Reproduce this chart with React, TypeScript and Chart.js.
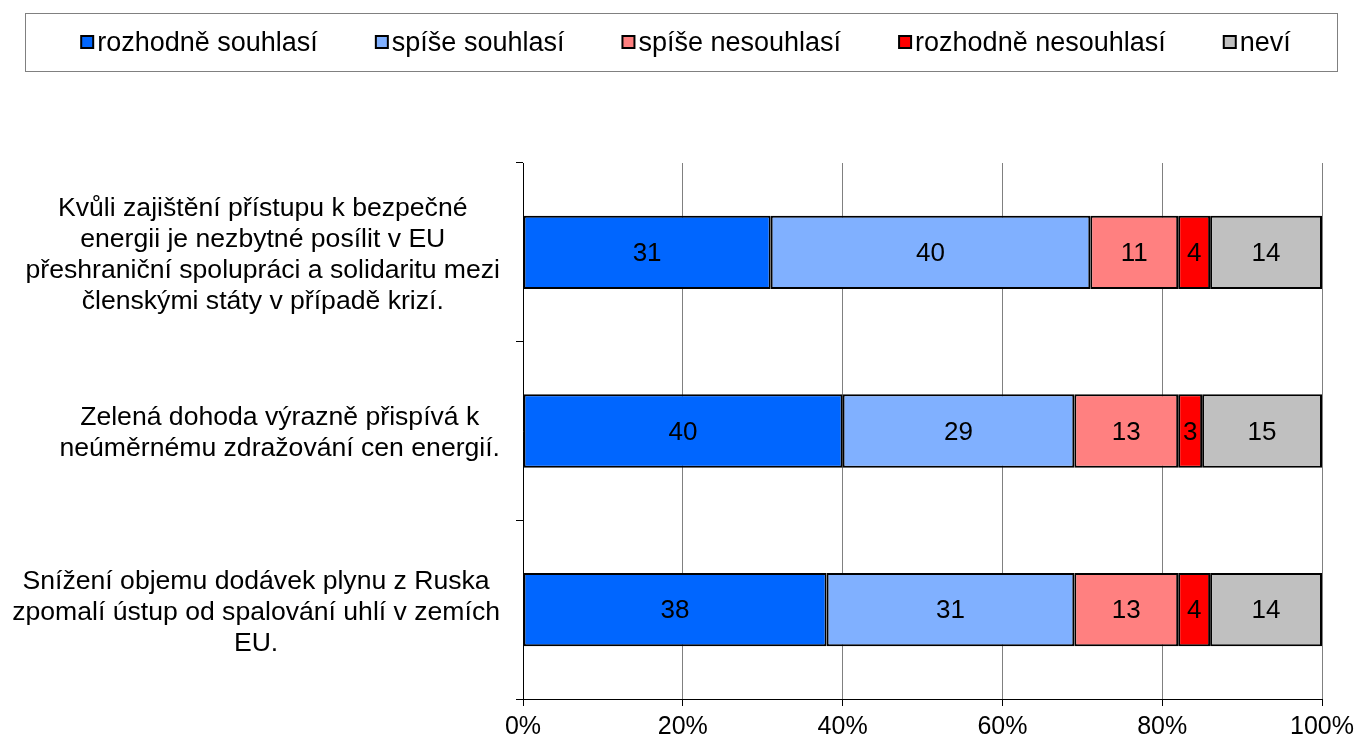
import React, { useEffect, useRef } from "react";
import { Chart, registerables } from "chart.js";
Chart.register(...registerables);

const categories: string[][] = [
  [
    "Kvůli zajištění přístupu k bezpečné",
    "energii je nezbytné posílit v EU",
    "přeshraniční spolupráci a solidaritu mezi",
    "členskými státy v případě krizí.",
  ],
  ["Zelená dohoda výrazně přispívá k", "neúměrnému zdražování cen energií."],
  [
    "Snížení objemu dodávek plynu z Ruska",
    "zpomalí ústup od spalování uhlí v zemích",
    "EU.",
  ],
];

const seriesNames = [
  "rozhodně souhlasí",
  "spíše souhlasí",
  "spíše nesouhlasí",
  "rozhodně nesouhlasí",
  "neví",
];
const rozhodneSouhlasi = [31, 40, 38];
const spiseSouhlasi = [40, 29, 31];
const spiseNesouhlasi = [11, 13, 13];
const rozhodneNesouhlasi = [4, 3, 4];
const nevi = [14, 15, 14];
const seriesColors = ["#0066FF", "#80B0FF", "#FF8080", "#FF0000", "#C0C0C0"];

const FONT = '"Liberation Sans", Arial, sans-serif';

const customPlugin = {
  id: "customDraw",
  afterDraw(chart: any) {
    const ctx = chart.ctx as CanvasRenderingContext2D;
    const area = chart.chartArea;
    ctx.save();
    // data labels
    ctx.font = `26px ${FONT}`;
    ctx.fillStyle = "#000";
    ctx.textAlign = "center";
    ctx.textBaseline = "middle";
    chart.data.datasets.forEach((ds: any, d: number) => {
      const meta = chart.getDatasetMeta(d);
      meta.data.forEach((el: any, i: number) => {
        const p = el.getProps(["x", "base", "y"], true);
        ctx.fillText(String(ds.data[i]), (p.x + p.base) / 2, p.y + 1.5);
      });
    });
    // category labels
    const yScale = chart.scales.y;
    ctx.font = `26.6px ${FONT}`;
    const lineH = 31;
    const right = area.left - 23;
    (chart.data.labels as string[][]).forEach((lines, i) => {
      const yc = yScale.getPixelForValue(i) + 2.5;
      const maxW = Math.max(...lines.map((l) => ctx.measureText(l).width));
      const cx = right - maxW / 2;
      const y0 = yc - ((lines.length - 1) * lineH) / 2;
      lines.forEach((l, k) => ctx.fillText(l, cx, y0 + k * lineH));
    });
    // legend
    const fl = { left: 25, top: 13, right: 1337, bottom: 71 };
    ctx.strokeStyle = "#808080";
    ctx.lineWidth = 1;
    ctx.strokeRect(fl.left + 0.5, fl.top + 0.5, fl.right - fl.left, fl.bottom - fl.top);
    ctx.font = `27px ${FONT}`;
    const box = 12;
    const gapBox = 4;
    const gap = 58;
    const widths = chart.data.datasets.map(
      (ds: any) => box + gapBox + ctx.measureText(ds.label).width
    );
    const total = widths.reduce((a: number, b: number) => a + b, 0) + gap * (widths.length - 1);
    let x = 686 - total / 2;
    const ly = (fl.top + fl.bottom) / 2;
    ctx.textAlign = "left";
    chart.data.datasets.forEach((ds: any, d: number) => {
      ctx.fillStyle = ds.backgroundColor;
      ctx.fillRect(x, ly - box / 2, box, box);
      ctx.strokeStyle = "#000";
      ctx.lineWidth = 2;
      ctx.strokeRect(x, ly - box / 2, box, box);
      ctx.fillStyle = "#000";
      ctx.fillText(ds.label, x + box + gapBox, ly + 1.5);
      x += widths[d] + gap;
    });
    ctx.restore();
  },
};

export default function App() {
  const ref = useRef<HTMLCanvasElement | null>(null);
  useEffect(() => {
    if (!ref.current) return;
    const values = [rozhodneSouhlasi, spiseSouhlasi, spiseNesouhlasi, rozhodneNesouhlasi, nevi];
    const chart = new Chart(ref.current, {
      type: "bar",
      data: {
        labels: categories as any,
        datasets: seriesNames.map((name, i) => ({
          label: name,
          data: values[i],
          backgroundColor: seriesColors[i],
          borderColor: "#000",
          borderWidth: 2,
          borderSkipped: false,
          categoryPercentage: 1,
          barPercentage: 0.41,
        })),
      },
      options: {
        indexAxis: "y",
        responsive: false,
        animation: false,
        layout: { padding: { top: 163, right: 36, left: 0, bottom: 0 } },
        plugins: { legend: { display: false }, tooltip: { enabled: false } },
        scales: {
          x: {
            stacked: true,
            min: 0,
            max: 100,
            ticks: {
              stepSize: 20,
              callback: (v: any) => v + "%",
              color: "#000",
              font: { family: FONT, size: 25 },
              padding: 6,
            },
            grid: { color: "#808080", tickColor: "#000", tickLength: 7 },
            border: { color: "#000", width: 1 },
            afterFit: (s: any) => {
              s.height = 41;
              s.paddingRight = 0;
              s.paddingLeft = 0;
            },
          },
          y: {
            stacked: true,
            ticks: { display: false },
            grid: { drawOnChartArea: false, tickColor: "#000", tickLength: 7, offset: true },
            border: { color: "#000", width: 1 },
            afterFit: (s: any) => {
              s.width = 523;
            },
          },
        },
      },
      plugins: [customPlugin],
    });
    return () => chart.destroy();
  }, []);
  return (
    <div style={{ position: "absolute", left: 0, top: 0, width: 1358, height: 740 }}>
      <canvas ref={ref} width={1358} height={740} />
    </div>
  );
}
